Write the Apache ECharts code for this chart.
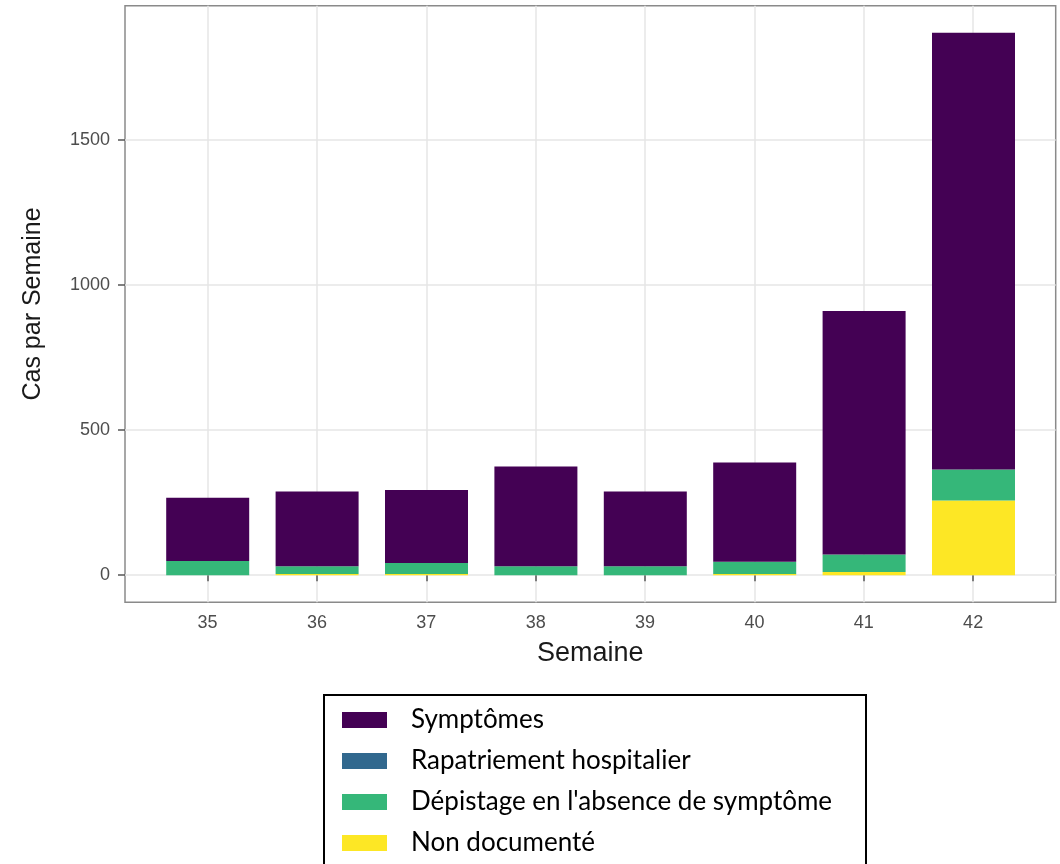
<!DOCTYPE html>
<html>
<head>
<meta charset="utf-8">
<script src="https://cdn.jsdelivr.net/npm/echarts@6/dist/echarts.min.js"></script>
<style>
html,body{margin:0;padding:0;background:#fff;}
#chart{width:1060px;height:864px;}
</style>
</head>
<body>
<div id="chart"></div>
<script>
// Data
const weeks = [35, 36, 37, 38, 39, 40, 41, 42];
const nonDocumente = [0, 4, 4, 0, 0, 4, 11, 257];
const depistage = [49, 27, 38, 31, 31, 42, 60, 107];
const rapatriement = [0, 0, 0, 0, 0, 0, 0, 0];
const symptomes = [218, 257, 251, 343, 257, 342, 839, 1504];
const yTicks = [0, 500, 1000, 1500];
const legendOrder = ['Symptômes', 'Rapatriement hospitalier', "Dépistage en l'absence de symptôme", 'Non documenté'];

const chart = echarts.init(document.getElementById('chart'), null, {renderer: 'canvas'});
const axisFont = 'Liberation Sans, Arial, sans-serif';
const yMin = -93.4, yMax = 1961.4;

function barSeries(name, data, color) {
  return {
    name: name,
    type: 'bar',
    stack: 'total',
    xAxisIndex: 1,
    yAxisIndex: 1,
    barWidth: 83,
    data: data,
    itemStyle: {color: color},
    emphasis: {disabled: true}
  };
}

chart.setOption({
  animation: false,
  backgroundColor: '#ffffff',
  grid: [
    { // full panel: border, grid lines, tick labels
      left: 125, right: 4.3, top: 5.7, bottom: 261.7,
      show: true, borderColor: '#8a8a8a', borderWidth: 1.5, backgroundColor: 'transparent'
    },
    { // bar area: category bands aligned with the panel's week positions
      left: 153, right: 31.8, top: 5.7, bottom: 261.7
    }
  ],
  xAxis: [
    {
      gridIndex: 0,
      type: 'value',
      min: 34.245, max: 42.755,
      name: 'Semaine',
      nameLocation: 'middle',
      nameGap: 38,
      nameTextStyle: {fontFamily: axisFont, fontSize: 27, color: '#1a1a1a'},
      axisLine: {show: false},
      axisTick: {show: true, length: 6, lineStyle: {color: '#555', width: 1.5}, customValues: weeks},
      axisLabel: {customValues: weeks, fontFamily: axisFont, fontSize: 18, color: '#4d4d4d', margin: 12},
      splitLine: {show: true, lineStyle: {color: '#e6e6e6', width: 1.5}}
    },
    {
      gridIndex: 1,
      type: 'category',
      data: weeks,
      show: false
    }
  ],
  yAxis: [
    {
      gridIndex: 0,
      type: 'value',
      min: yMin, max: yMax,
      name: 'Cas par Semaine',
      nameLocation: 'middle',
      nameGap: 79,
      nameRotate: 90,
      nameTextStyle: {fontFamily: axisFont, fontSize: 25, color: '#1a1a1a'},
      axisLine: {show: false},
      axisTick: {show: true, length: 7, lineStyle: {color: '#555', width: 1.5}, customValues: yTicks},
      axisLabel: {customValues: yTicks, fontFamily: axisFont, fontSize: 18, color: '#4d4d4d', margin: 15,
                  formatter: v => String(v)},
      splitLine: {show: true, lineStyle: {color: '#e6e6e6', width: 1.5}}
    },
    {
      gridIndex: 1,
      type: 'value',
      min: yMin, max: yMax,
      show: false,
      splitLine: {show: false}
    }
  ],
  legend: {
    show: true,
    orient: 'vertical',
    left: 342,
    top: 699.5,
    height: 400,
    padding: 0,
    data: legendOrder,
    itemWidth: 45,
    itemHeight: 16,
    itemGap: 0,
    icon: 'rect',
    selectedMode: false,
    textStyle: {fontFamily: 'Lato, sans-serif', fontSize: 26, color: '#000', lineHeight: 41, padding: [0, 0, 0, 19]}
  },
  graphic: [{
    type: 'rect',
    shape: {x: 324, y: 695, width: 542, height: 200},
    style: {fill: 'none', stroke: '#000', lineWidth: 2},
    silent: true
  }],
  series: [
    barSeries('Non documenté', nonDocumente, '#FDE725'),
    barSeries("Dépistage en l'absence de symptôme", depistage, '#35B779'),
    barSeries('Rapatriement hospitalier', rapatriement, '#31688E'),
    barSeries('Symptômes', symptomes, '#440154')
  ]
});
</script>
</body>
</html>
